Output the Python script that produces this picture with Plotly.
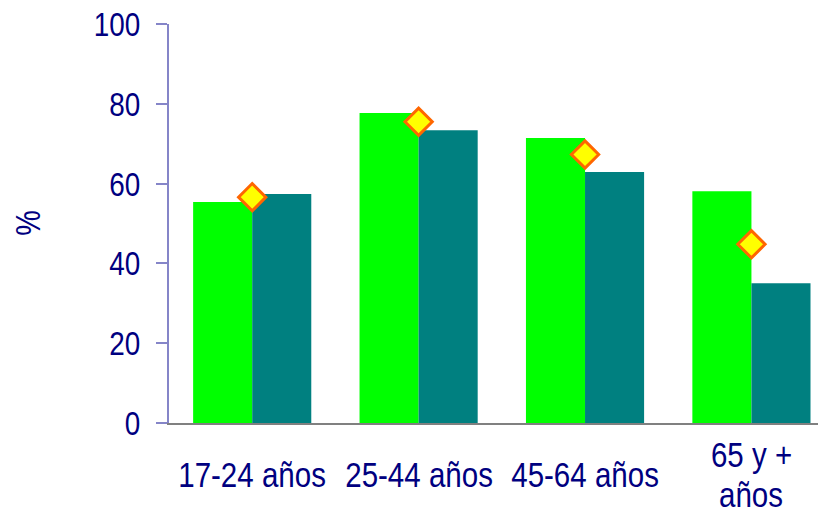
import plotly.graph_objects as go

# Age groups and their survey percentages
categories = ["17-24 años", "25-44 años", "45-64 años", "65 y +\naños"]
serie_verde = [55.4, 77.7, 71.4, 58.1]
serie_teal = [57.4, 73.4, 62.9, 35.0]
serie_rombo = [56.6, 75.5, 67.3, 44.8]
y_ticks = [0, 20, 40, 60, 80, 100]

FONT = "Liberation Sans, Arial, sans-serif"
NAVY = "#000080"

fig = go.Figure()
fig.add_trace(go.Bar(x=categories, y=serie_verde, marker=dict(color="#00FF00", line=dict(width=0)),
                     showlegend=False))
fig.add_trace(go.Bar(x=categories, y=serie_teal, marker=dict(color="#008080", line=dict(width=0)),
                     showlegend=False))
fig.add_trace(go.Scatter(x=categories, y=serie_rombo, mode="markers", showlegend=False,
                         marker=dict(symbol="diamond", size=21, color="#FFFF00",
                                     line=dict(color="#FF6600", width=3))))

# Category labels, each line placed separately so multi-line labels sit centred
annotations = []
for cat in categories:
    lines = cat.split("\n")
    n = len(lines)
    for i, line in enumerate(lines):
        offset = (i - (n - 1) / 2) * 40
        annotations.append(dict(x=cat, xref="x", y=0, yref="paper", yanchor="middle",
                                xanchor="center", text=line, showarrow=False,
                                yshift=-51 - offset, font=dict(family=FONT, size=36, color=NAVY)))

# Y axis title
annotations.append(dict(x=0, xref="paper", xshift=-141, y=0.5, yref="paper", text="%",
                        textangle=-90, showarrow=False, xanchor="center", yanchor="middle",
                        font=dict(family=FONT, size=35, color=NAVY)))

fig.update_layout(
    width=818, height=516,
    margin=dict(l=169, r=0, t=24, b=93),
    paper_bgcolor="white", plot_bgcolor="white",
    barmode="group", bargap=0.29, bargroupgap=0,
    annotations=annotations,
    xaxis=dict(type="category", range=[-0.5, 3.4], showticklabels=False, ticks="",
               showline=True, linecolor="#808080", linewidth=2, showgrid=False, zeroline=False),
    yaxis=dict(range=[0, 100], tickvals=y_ticks, ticks="outside", ticklen=11, tickwidth=2,
               tickcolor="#8585C8", showline=True, linecolor="#8585C8", linewidth=2,
               showgrid=False, zeroline=False, ticklabelstandoff=9,
               tickfont=dict(family=FONT, size=34, color=NAVY)),
)

# Narrow the lettering horizontally (condensed face), keeping each label's anchor point fixed
condense_js = """
var gd = document.getElementById('{plot_id}');
gd.querySelectorAll('.ytick text, text.annotation-text').forEach(function (t) {
    var ax = parseFloat(t.getAttribute('x')) || 0;
    var tr = t.getAttribute('transform') || '';
    t.setAttribute('transform', tr + ' translate(' + ax + ',0) scale(0.82,1) translate(' + (-ax) + ',0)');
});
"""

fig.write_html("out.html", post_script=condense_js)
